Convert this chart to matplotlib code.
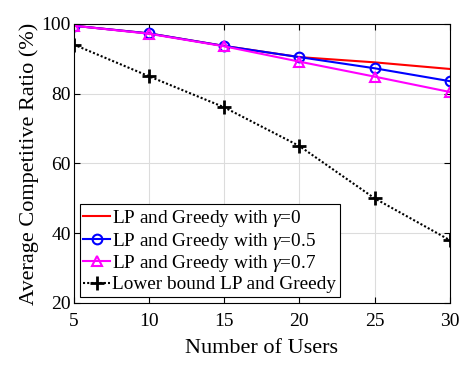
import matplotlib
matplotlib.use("Agg")
import matplotlib.pyplot as plt

plt.rcParams['font.family'] = ['Liberation Serif', 'DejaVu Serif']
plt.rcParams['mathtext.fontset'] = 'custom'
plt.rcParams['mathtext.it'] = 'Liberation Serif:italic'
plt.rcParams['mathtext.rm'] = 'Liberation Serif'

users = [5, 10, 15, 20, 25, 30]
gamma0 = [99.5, 97.3, 93.7, 90.5, 89.0, 87.1]
gamma05 = [99.5, 97.3, 93.7, 90.5, 87.3, 83.6]
gamma07 = [99.5, 97.2, 93.6, 89.2, 84.9, 80.5]
lower = [94.1, 85.0, 76.1, 65.0, 50.0, 38.0]
labels = [r'LP and Greedy with $\gamma$=0', r'LP and Greedy with $\gamma$=0.5',
          r'LP and Greedy with $\gamma$=0.7', 'Lower bound LP and Greedy']

fig = plt.figure(figsize=(4.73, 3.69), dpi=100)
ax = fig.add_axes([0.156, 0.179, 0.795, 0.756])

ax.plot(users, gamma0, color='red', lw=1.5, label=labels[0])
ax.plot(users, gamma05, color='blue', lw=1.5, marker='o', ms=7, mfc='none', mew=1.5, label=labels[1])
ax.plot(users, gamma07, color='magenta', lw=1.5, marker='^', ms=7, mfc='none', mew=1.5, label=labels[2])
ax.plot(users, lower, color='black', lw=1.5, ls=(0, (1, 1)), marker='+', ms=10, mew=2, label=labels[3])

ax.set_xlim(5, 30)
ax.set_ylim(20, 100)
ax.set_xticks(users)
ax.set_yticks([20, 40, 60, 80, 100])
ax.grid(True, color='#dcdcdc', lw=0.8)
ax.set_axisbelow(True)
ax.tick_params(direction='in', labelsize=14, length=4, top=True, right=True)
ax.tick_params(axis='x', pad=7)
ax.tick_params(axis='y', pad=2)
for s in ax.spines.values():
    s.set_linewidth(0.8)
ax.set_xlabel('Number of Users', fontsize=16, labelpad=7)
ax.set_ylabel('Average Competitive Ratio (%)', fontsize=16, labelpad=2)

leg = ax.legend(loc='lower left', fontsize=13.9, frameon=True, fancybox=False,
                edgecolor='black', framealpha=1, borderpad=0.2, labelspacing=0.08,
                handlelength=1.4, handletextpad=0.1, borderaxespad=0.3)
leg.get_frame().set_linewidth(0.8)

fig.savefig('out.png', dpi=100)
